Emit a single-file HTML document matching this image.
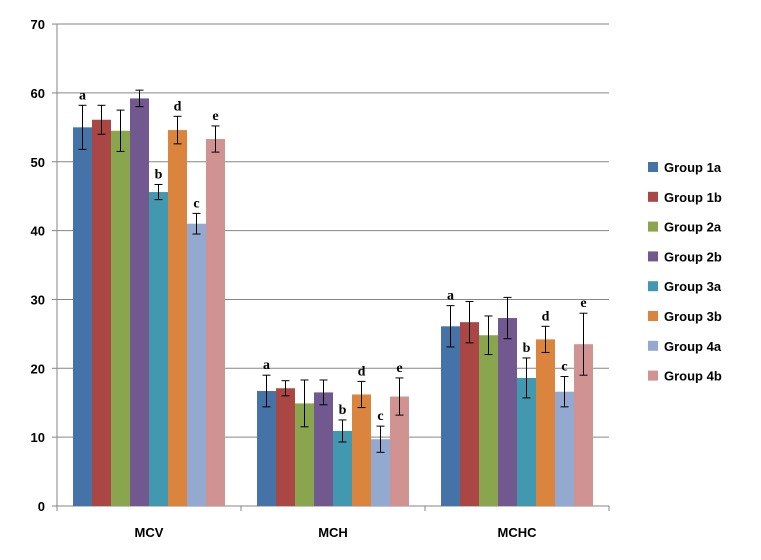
<!DOCTYPE html>
<html><head><meta charset="utf-8"><style>body{margin:0;background:#fff}svg{display:block;font-family:"Liberation Sans",sans-serif}</style></head>
<body>
<svg id="c" width="761" height="560"></svg>
<script>
const categories=["MCV","MCH","MCHC"];
const groups=["Group 1a","Group 1b","Group 2a","Group 2b","Group 3a","Group 3b","Group 4a","Group 4b"];
const colors=["#4572a7","#aa4643","#89a54e","#71588f","#4198af","#db843d","#93a9cf","#d19392"];
const values=[[55,56.1,54.5,59.2,45.6,54.6,41,53.3],[16.7,17.1,14.9,16.5,10.9,16.2,9.7,15.9],[26.1,26.7,24.8,27.3,18.6,24.2,16.6,23.5]];
const errors=[[3.2,2.1,3,1.2,1.1,2,1.5,1.9],[2.3,1.1,3.4,1.8,1.6,1.9,1.9,2.7],[3,3,2.8,3,2.9,1.9,2.2,4.5]];
const letters=["a","","","","b","d","c","e"];
const yTicks=[0,10,20,30,40,50,60,70];
const NS="http://www.w3.org/2000/svg",svg=document.getElementById('c');
const x0=57,catW=184,barW=19,pad=16,y0=506,pxPer=6.885;
const Y=v=>y0-v*pxPer;
function mk(t,a,txt){const e=document.createElementNS(NS,t);for(const k in a)e.setAttribute(k,a[k]);if(txt!==undefined)e.textContent=txt;svg.appendChild(e);return e;}
yTicks.forEach(t=>{
 if(t>0){const g=mk('line',{x1:x0,x2:x0+3*catW,y1:Y(t),y2:Y(t),stroke:'#868686','stroke-width':1});
 
 }
 const l=mk('text',{x:x0-12,y:Y(t)+5,'text-anchor':'end','font-size':13,'font-weight':'bold',fill:'#000'},t);
 
 
 mk('line',{x1:x0-5,x2:x0,y1:Y(t),y2:Y(t),stroke:'#868686'});
});
mk('line',{x1:x0,x2:x0,y1:Y(70),y2:y0,stroke:'#868686'});
mk('line',{x1:x0,x2:x0+3*catW,y1:y0,y2:y0,stroke:'#868686'});
categories.forEach((c,ci)=>{
 for(let k=0;k<=3;k++)mk('line',{x1:x0+k*catW,x2:x0+k*catW,y1:y0,y2:y0+5,stroke:'#868686'});
 const cl=mk('text',{x:x0+ci*catW+catW/2,y:537,'text-anchor':'middle','font-size':13,'font-weight':'bold'},c);
 
 
 values[ci].forEach((v,gi)=>{
  const bx=x0+ci*catW+pad+gi*barW;
  const r=mk('rect',{x:bx,y:Y(v),width:barW,height:y0-Y(v),fill:colors[gi]});
  
  
  const cx=bx+barW/2,e=errors[ci][gi];
  mk('line',{x1:cx,x2:cx,y1:Y(v+e),y2:Y(v-e),stroke:'#000','stroke-width':1});
  mk('line',{x1:cx-4,x2:cx+4,y1:Y(v+e),y2:Y(v+e),stroke:'#000'});
  mk('line',{x1:cx-4,x2:cx+4,y1:Y(v-e),y2:Y(v-e),stroke:'#000'});
  if(letters[gi]){const t=mk('text',{x:cx,y:Y(v+e)-6,'text-anchor':'middle','font-size':14,'font-weight':'bold','font-family':'Liberation Serif, serif'},letters[gi]);
   
   }
 });
});
groups.forEach((g,gi)=>{
 const y=167+gi*29.8;
 const s=mk('rect',{x:648,y:y-5,width:10,height:10,fill:colors[gi]});
 
 
 const t=mk('text',{x:664,y:y+5,'font-size':13,'font-weight':'bold'},g);
 
 
});
</script>
</body></html>
